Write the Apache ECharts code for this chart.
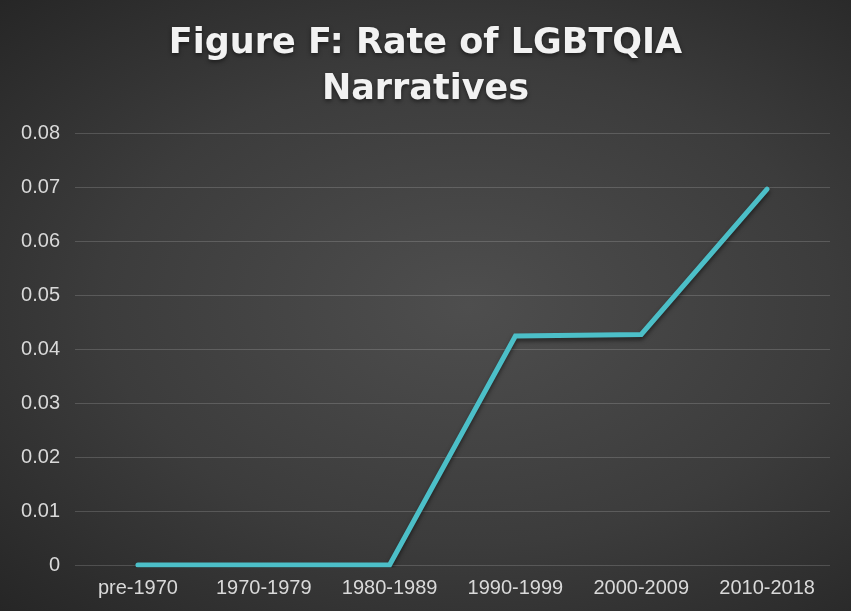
<!DOCTYPE html>
<html>
<head>
<meta charset="utf-8">
<script src="https://cdn.jsdelivr.net/npm/echarts@6/dist/echarts.min.js"></script>
<style>
  html, body { margin: 0; padding: 0; }
  #chart {
    width: 851px;
    height: 611px;
    background: radial-gradient(ellipse at 55% 50%, #4e4e4e 0%, #3c3c3c 55%, #262626 100%);
  }
</style>
</head>
<body>
<div id="chart"></div>
<script>
// --- Data ---
const categories = ['pre-1970', '1970-1979', '1980-1989', '1990-1999', '2000-2009', '2010-2018'];
const rates = [0, 0, 0, 0.0424, 0.0427, 0.0696];

const chart = echarts.init(document.getElementById('chart'));

chart.setOption({
  backgroundColor: 'transparent',
  title: {
    text: 'Figure F: Rate of LGBTQIA\nNarratives',
    left: 'center',
    top: 16,
    textStyle: {
      color: '#f2f2f2',
      fontFamily: 'DejaVu Sans, Arial, sans-serif',
      fontWeight: 'bold',
      fontSize: 35,
      lineHeight: 46,
      textShadowColor: 'rgba(0,0,0,0.5)',
      textShadowBlur: 4,
      textShadowOffsetY: 2,
    },
  },
  grid: {
    left: 75,
    right: 21,
    top: 133,
    bottom: 46,
  },
  xAxis: {
    type: 'category',
    data: categories,
    axisLine: { show: false },
    axisTick: { show: false },
    axisLabel: {
      interval: 0,
      color: '#d9d9d9',
      fontFamily: 'Liberation Sans, Arial, sans-serif',
      fontSize: 20,
      margin: 13,
    },
  },
  yAxis: {
    type: 'value',
    min: 0,
    max: 0.08,
    interval: 0.01,
    axisLine: { show: false },
    axisTick: { show: false },
    axisLabel: {
      color: '#d9d9d9',
      fontFamily: 'Liberation Sans, Arial, sans-serif',
      fontSize: 20,
      margin: 15,
      formatter: (v) => (v === 0 ? '0' : v.toFixed(2)),
    },
    splitLine: {
      lineStyle: { color: 'rgba(255,255,255,0.16)', width: 1 },
    },
  },
  series: [
    {
      type: 'line',
      data: rates,
      symbol: 'none',
      lineStyle: {
        color: '#4cbfc8',
        width: 5,
        cap: 'round',
        join: 'miter',
        shadowColor: 'rgba(0,0,0,0.5)',
        shadowBlur: 4,
        shadowOffsetY: 3,
      },
      itemStyle: { color: '#4cbfc8' },
    },
  ],
});
</script>
</body>
</html>
